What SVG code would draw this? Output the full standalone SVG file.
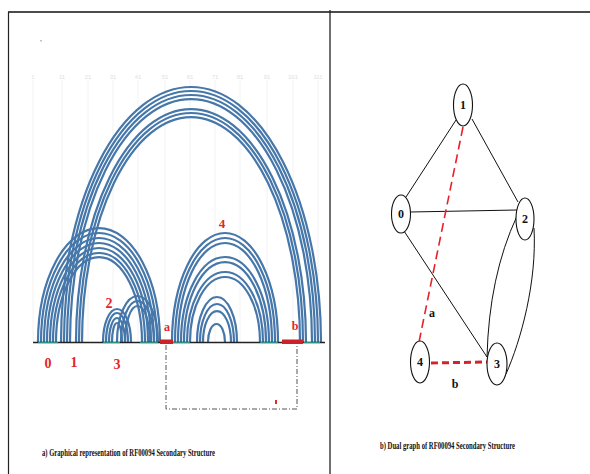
<svg xmlns="http://www.w3.org/2000/svg" width="590" height="474" viewBox="0 0 590 474">
<style>
.arc{fill:none;stroke:#4677aa;stroke-width:2.2}
.grid{stroke:#f2f2f2;stroke-width:1}
.tick{font-family:"Liberation Sans",sans-serif;font-size:6px;fill:#e0e0e0;text-anchor:middle}
.rl{font-family:"Liberation Serif",serif;font-weight:bold;fill:#e0262c;text-anchor:middle}
.nl{font-family:"Liberation Serif",serif;font-weight:bold;font-size:12px;fill:#111;text-anchor:middle}
.node{fill:#fff;stroke:#111;stroke-width:1.1}
.edge{fill:none;stroke:#111;stroke-width:1}
.cap{font-family:"Liberation Serif",serif;font-weight:bold;font-size:10px;fill:#111}
</style>
<rect width="590" height="474" fill="#fff"/>
<!-- frame -->
<line x1="8" y1="12" x2="590" y2="12" stroke="#111" stroke-width="1.6"/>
<line x1="8.5" y1="12" x2="8.5" y2="474" stroke="#222" stroke-width="1.2"/>
<line x1="330" y1="10" x2="330" y2="474" stroke="#222" stroke-width="1.3"/>
<rect x="40.5" y="40" width="1" height="1.5" fill="#888"/>
<!-- grid -->
<g id="grid">
<line class="grid" x1="33" y1="80" x2="33" y2="342"/>
<line class="grid" x1="62" y1="80" x2="62" y2="342"/>
<line class="grid" x1="88" y1="80" x2="88" y2="342"/>
<line class="grid" x1="113" y1="80" x2="113" y2="342"/>
<line class="grid" x1="138" y1="80" x2="138" y2="342"/>
<line class="grid" x1="165" y1="80" x2="165" y2="342"/>
<line class="grid" x1="190" y1="80" x2="190" y2="342"/>
<line class="grid" x1="215" y1="80" x2="215" y2="342"/>
<line class="grid" x1="240" y1="80" x2="240" y2="342"/>
<line class="grid" x1="267" y1="80" x2="267" y2="342"/>
<line class="grid" x1="293" y1="80" x2="293" y2="342"/>
<line class="grid" x1="318" y1="80" x2="318" y2="342"/>
<text class="tick" x="33" y="79">1</text>
<text class="tick" x="62" y="79">11</text>
<text class="tick" x="88" y="79">21</text>
<text class="tick" x="113" y="79">31</text>
<text class="tick" x="138" y="79">41</text>
<text class="tick" x="165" y="79">51</text>
<text class="tick" x="190" y="79">61</text>
<text class="tick" x="215" y="79">71</text>
<text class="tick" x="240" y="79">81</text>
<text class="tick" x="267" y="79">91</text>
<text class="tick" x="293" y="79">101</text>
<text class="tick" x="318" y="79">111</text>
</g>
<!-- big arcs -->
<g id="arcs-big">
<path class="arc" d="M61 342 A130 255 0 0 1 321 342"/>
<path class="arc" d="M64 342 A127 251 0 0 1 318 342"/>
<path class="arc" d="M67 342 A124 247 0 0 1 315 342"/>
<path class="arc" d="M70 342 A121 243 0 0 1 312 342"/>
<path class="arc" d="M76 342 A115 233 0 0 1 306 342"/>
<path class="arc" d="M79 342 A112 229 0 0 1 303 342"/>
<path class="arc" d="M82 342 A109 225 0 0 1 300 342"/>
</g>
<!-- group 0 arcs -->
<g id="arcs-0">
<path class="arc" d="M38 342 A61 114 0 0 1 160 342"/>
<path class="arc" d="M41 342 A58 109 0 0 1 157 342"/>
<path class="arc" d="M44 342 A55 104 0 0 1 154 342"/>
<path class="arc" d="M47 342 A52 99 0 0 1 151 342"/>
<path class="arc" d="M50 342 A49 94 0 0 1 148 342"/>
<path class="arc" d="M53 342 A46 89 0 0 1 145 342"/>
<path class="arc" d="M56 342 A43 85 0 0 1 142 342"/>
</g>
<!-- group 3 small arcs -->
<g id="arcs-3">
<path class="arc" d="M103 342 A14 33 0 0 1 131 342"/>
<path class="arc" d="M106 342 A11 29 0 0 1 128 342"/>
<path class="arc" d="M109 342 A8 24 0 0 1 125 342"/>
<path class="arc" d="M112 342 A5 19 0 0 1 122 342"/>
</g>
<!-- group 2 arcs -->
<g id="arcs-2">
<path class="arc" d="M117 342 A20.5 46 0 0 1 158 342"/>
<path class="arc" d="M121 342 A16.5 41 0 0 1 154 342"/>
<path class="arc" d="M125 342 A12.5 36 0 0 1 150 342"/>
</g>
<!-- group 4 arcs -->
<g id="arcs-4">
<path class="arc" d="M172 342 A53 109 0 0 1 278 342"/>
<path class="arc" d="M175 342 A50 104 0 0 1 275 342"/>
<path class="arc" d="M178 342 A47 99 0 0 1 272 342"/>
<path class="arc" d="M181 342 A44 85 0 0 1 269 342"/>
<path class="arc" d="M184 342 A41 80 0 0 1 266 342"/>
<path class="arc" d="M187 342 A38 70 0 0 1 263 342"/>
<path class="arc" d="M190 342 A35 65 0 0 1 260 342"/>
<path class="arc" d="M197 342 A20 45 0 0 1 237 342"/>
<path class="arc" d="M200 342 A17 38 0 0 1 234 342"/>
<path class="arc" d="M203 342 A14 31 0 0 1 231 342"/>
<path class="arc" d="M208 342 A8.5 18 0 0 1 225 342"/>
</g>
<!-- baseline -->
<line x1="33" y1="342.5" x2="325" y2="342.5" stroke="#222" stroke-width="1.6"/>
<g stroke="#2f8f80" stroke-width="1.2">
<line x1="38" y1="342.5" x2="58" y2="342.5"/>
<line x1="103" y1="342.5" x2="120" y2="342.5"/>
<line x1="140" y1="342.5" x2="158" y2="342.5"/>
<line x1="172" y1="342.5" x2="190" y2="342.5"/>
<line x1="260" y1="342.5" x2="278" y2="342.5"/>
<line x1="304" y1="342.5" x2="320" y2="342.5"/>
</g>
<rect x="160" y="339.5" width="13" height="4.5" fill="#cc2229"/>
<rect x="282" y="339.5" width="21" height="4.5" fill="#cc2229"/>
<!-- dash-dot bracket -->
<path d="M166 345 V409 H297 V345" fill="none" stroke="#555" stroke-width="1" stroke-dasharray="5 2 1 2"/>
<rect x="275" y="400" width="2" height="4" fill="#e8262c"/>
<!-- red labels -->
<text class="rl" x="48" y="368" font-size="14">0</text>
<text class="rl" x="74" y="367" font-size="14">1</text>
<text class="rl" x="117" y="369" font-size="14">3</text>
<text class="rl" x="109" y="308" font-size="14">2</text>
<text class="rl" x="222" y="228" font-size="13">4</text>
<text class="rl" x="167" y="331" font-size="12">a</text>
<text class="rl" x="295" y="330" font-size="12">b</text>
<text class="cap" x="42" y="456" textLength="173" lengthAdjust="spacingAndGlyphs">a) Graphical representation of RF00094 Secondary Structure</text>
<!-- dual graph -->
<g id="connectors">
<line class="edge" x1="456" y1="120" x2="406" y2="197"/>
<line class="edge" x1="472" y1="119" x2="518" y2="202"/>
<line class="edge" x1="410" y1="212" x2="517" y2="210"/>
<line class="edge" x1="404" y1="231" x2="487" y2="357"/>
<path class="edge" d="M517 216 Q489 276 487 357"/>
<path class="edge" d="M534 228 C537 282 521 340 506 374"/>
<line x1="463" y1="127" x2="419" y2="342" stroke="#e8202a" stroke-width="1.6" stroke-dasharray="9 5"/>
<line x1="431" y1="363" x2="487" y2="362" stroke="#d0262a" stroke-width="3" stroke-dasharray="7 4"/>
</g>
<g id="node-1"><ellipse class="node" cx="463" cy="105" rx="9.5" ry="21"/><text class="nl" x="463" y="109">1</text></g>
<g id="node-0"><ellipse class="node" cx="401" cy="214" rx="9.5" ry="19"/><text class="nl" x="401" y="218">0</text></g>
<g id="node-2"><ellipse class="node" cx="525" cy="219" rx="9" ry="21"/><text class="nl" x="525" y="223">2</text></g>
<g id="node-4"><ellipse class="node" cx="420" cy="362" rx="9.5" ry="21"/><text class="nl" x="420" y="366">4</text></g>
<g id="node-3"><ellipse class="node" cx="497" cy="364" rx="10" ry="21"/><text class="nl" x="497" y="368">3</text></g>
<text class="nl" x="432" y="317" font-size="11">a</text>
<text class="nl" x="455" y="388" font-size="11">b</text>
<text class="cap" x="380" y="449" textLength="135" lengthAdjust="spacingAndGlyphs">b) Dual graph of RF00094 Secondary Structure</text>
</svg>
